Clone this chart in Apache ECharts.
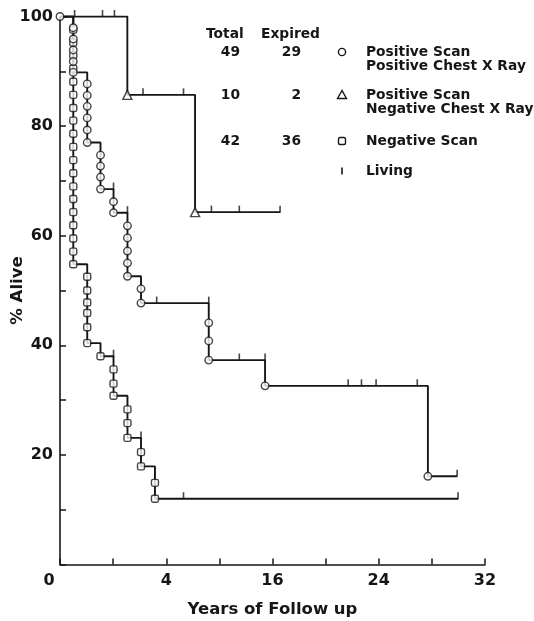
<!DOCTYPE html>
<html>
<head>
<meta charset="utf-8">
<title>% Alive by scan result</title>
<script src="https://cdn.jsdelivr.net/npm/echarts@6/dist/echarts.min.js"></script>
<style>
  html, body { margin: 0; padding: 0; background: #fff; }
  #main { width: 534px; height: 621px; }
</style>
</head>
<body>
<div id="main"></div>
<script>
// tick labels as printed on the figure (the second one reads "4")
var xLabelValues = [0, 8, 16, 24, 32];
var xLabelTexts = ['0', '4', '16', '24', '32'];
var yLabelValues = [20, 40, 60, 80, 100];

// Positive Scan / Positive Chest X Ray (circles)
var posPosSteps = [[0, 100], [1.0, 89.8], [2.05, 77.0], [3.05, 68.5], [4.03, 64.2], [5.08, 52.6],
  [6.1, 47.7], [11.2, 37.3], [15.44, 32.6], [27.7, 16.1], [29.9, 16.1]];
var posPosDeaths = [[0, 100],
  [1.0, 97.96], [1.0, 95.9], [1.0, 93.9], [1.0, 91.8], [1.0, 89.8],
  [2.05, 87.7], [2.05, 85.6], [2.05, 83.6], [2.05, 81.5], [2.05, 79.3], [2.05, 77.0],
  [3.05, 74.7], [3.05, 72.7], [3.05, 70.7], [3.05, 68.5],
  [4.03, 66.2], [4.03, 64.2],
  [5.08, 61.8], [5.08, 59.6], [5.08, 57.2], [5.08, 55.0], [5.08, 52.6],
  [6.1, 50.3], [6.1, 47.7],
  [11.2, 44.1], [11.2, 40.8], [11.2, 37.3],
  [15.44, 32.6],
  [27.7, 16.1]];
var posPosLiving = [[4.03, 68.5], [5.08, 64.2], [7.28, 47.7], [11.2, 47.7], [13.5, 37.3], [15.44, 37.3],
  [21.7, 32.6], [22.7, 32.6], [23.8, 32.6], [26.9, 32.6], [29.9, 16.1]];

// Positive Scan / Negative Chest X Ray (triangles)
var posNegSteps = [[0, 100], [5.07, 85.7], [10.17, 64.3], [16.57, 64.3]];
var posNegDeaths = [[5.07, 85.7], [10.17, 64.3]];
var posNegLiving = [[1.1, 100], [3.2, 100], [4.1, 100], [6.25, 85.7], [9.3, 85.7],
  [11.4, 64.3], [13.5, 64.3], [16.57, 64.3]];

// Negative Scan (squares)
var negSteps = [[0, 100], [1.0, 54.8], [2.05, 40.4], [3.05, 38.0], [4.03, 30.8], [5.08, 23.1],
  [6.1, 17.9], [7.15, 12.0], [29.97, 12.0]];
var negDeaths = [
  [1.0, 97.6], [1.0, 95.2], [1.0, 92.9], [1.0, 90.5], [1.0, 88.1], [1.0, 85.7], [1.0, 83.3],
  [1.0, 81.0], [1.0, 78.6], [1.0, 76.2], [1.0, 73.8], [1.0, 71.4], [1.0, 69.0], [1.0, 66.7],
  [1.0, 64.3], [1.0, 61.9], [1.0, 59.5], [1.0, 57.1], [1.0, 54.8],
  [2.05, 52.5], [2.05, 50.0], [2.05, 47.8], [2.05, 45.9], [2.05, 43.3], [2.05, 40.4],
  [3.05, 38.0],
  [4.03, 35.6], [4.03, 33.0], [4.03, 30.8],
  [5.08, 28.3], [5.08, 25.8], [5.08, 23.1],
  [6.1, 20.5], [6.1, 17.9],
  [7.15, 14.9], [7.15, 12.0]];
var negLiving = [[4.03, 38.0], [6.1, 23.1], [9.3, 12.0], [29.97, 12.0]];

// key table
var keyTotals = ['49', '10', '42'];
var keyExpired = ['29', '2', '36'];
var keyNames = [['Positive Scan', 'Positive Chest X Ray'], ['Positive Scan', 'Negative Chest X Ray'], ['Negative Scan']];

var ink = '#161616';
var font = '"DejaVu Sans", "Liberation Sans", sans-serif';

var chart = echarts.init(document.getElementById('main'), null, { renderer: 'canvas' });

function stepLine(data) {
  return {
    type: 'line', data: data, step: 'end', showSymbol: false, silent: true,
    lineStyle: { color: ink, width: 1.9 }, z: 2
  };
}
function marks(data, symbol, size) {
  return {
    type: 'scatter', data: data, symbol: symbol, symbolSize: size, silent: true,
    itemStyle: { color: '#fff', borderColor: ink, borderWidth: 1.4 }, z: 4
  };
}
function living(data) {
  return {
    type: 'scatter', data: data, symbol: 'rect', symbolSize: [1.6, 7], symbolOffset: [0, -3],
    silent: true, itemStyle: { color: ink }, z: 3
  };
}

// key graphic
var keyRowsY = [52, 95, 141];
var keyText = function (text, x, y, align) {
  return { type: 'text', x: x, y: y, silent: true,
    style: { text: text, fill: ink, font: 'bold 13.8px ' + font, align: align || 'left', verticalAlign: 'middle' } };
};
var graphics = [keyText('Total', 206, 34), keyText('Expired', 261, 34)];
for (var i = 0; i < keyTotals.length; i++) {
  var ry = keyRowsY[i];
  graphics.push(keyText(keyTotals[i], 240, ry, 'right'));
  graphics.push(keyText(keyExpired[i], 301, ry, 'right'));
  for (var j = 0; j < keyNames[i].length; j++) {
    graphics.push(keyText(keyNames[i][j], 366, ry + j * 14.5));
  }
}
graphics.push({ type: 'circle', shape: { cx: 342, cy: 52, r: 3.6 }, silent: true,
  style: { fill: '#fff', stroke: ink, lineWidth: 1.4 } });
graphics.push({ type: 'polygon', shape: { points: [[342, 90.5], [337.5, 98.5], [346.5, 98.5]] }, silent: true,
  style: { fill: '#fff', stroke: ink, lineWidth: 1.4 } });
graphics.push({ type: 'rect', shape: { x: 338.5, y: 137.5, width: 7, height: 7, r: 1.5 }, silent: true,
  style: { fill: '#fff', stroke: ink, lineWidth: 1.4 } });
graphics.push({ type: 'rect', shape: { x: 341.2, y: 167.5, width: 1.6, height: 7 }, silent: true,
  style: { fill: ink } });
graphics.push(keyText('Living', 366, 171));

var option = {
  animation: false,
  backgroundColor: '#fff',
  grid: { left: 60, right: 49, top: 16.5, bottom: 56.5, containLabel: false, outerBoundsMode: 'none' },
  xAxis: {
    type: 'value', min: 0, max: 32, interval: 4,
    name: 'Years of Follow up', nameLocation: 'middle', nameGap: 37, nameMoveOverlap: false,
    nameTextStyle: { color: ink, fontFamily: font, fontWeight: 'bold', fontSize: 16.5 },
    axisLine: { show: true, onZero: false, lineStyle: { color: ink, width: 1.6 } },
    axisTick: { show: true, inside: true, length: 6, lineStyle: { color: ink, width: 1.5 } },
    splitLine: { show: false },
    axisLabel: {
      margin: 8, color: ink, fontFamily: font, fontWeight: 'bold', fontSize: 16,
      formatter: function (v) {
        var k = xLabelValues.indexOf(v);
        if (k < 0) return '';
        return k === 0 ? '{z|' + xLabelTexts[k] + '}' : xLabelTexts[k];
      },
      rich: { z: { padding: [0, 22, 0, 0], color: ink, fontFamily: font, fontWeight: 'bold', fontSize: 16 } }
    }
  },
  yAxis: {
    type: 'value', min: 0, max: 100, interval: 10,
    name: '% Alive', nameLocation: 'middle', nameGap: 34, nameRotate: 90, nameMoveOverlap: false,
    nameTextStyle: { color: ink, fontFamily: font, fontWeight: 'bold', fontSize: 16.5 },
    axisLine: { show: true, lineStyle: { color: ink, width: 1.6 } },
    axisTick: { show: true, inside: true, length: 6, lineStyle: { color: ink, width: 1.5 } },
    splitLine: { show: false },
    axisLabel: {
      margin: 7, color: ink, fontFamily: font, fontWeight: 'bold', fontSize: 16,
      formatter: function (v) { return yLabelValues.indexOf(v) >= 0 ? String(v) : ''; }
    }
  },
  graphic: graphics,
  series: [
    stepLine(posNegSteps),
    stepLine(posPosSteps),
    stepLine(negSteps),
    living(posNegLiving),
    living(posPosLiving),
    living(negLiving),
    marks(posNegDeaths, 'triangle', 9),
    marks(negDeaths, 'roundRect', 7),
    marks(posPosDeaths, 'circle', 7.5)
  ]
};

chart.setOption(option);
</script>
</body>
</html>
